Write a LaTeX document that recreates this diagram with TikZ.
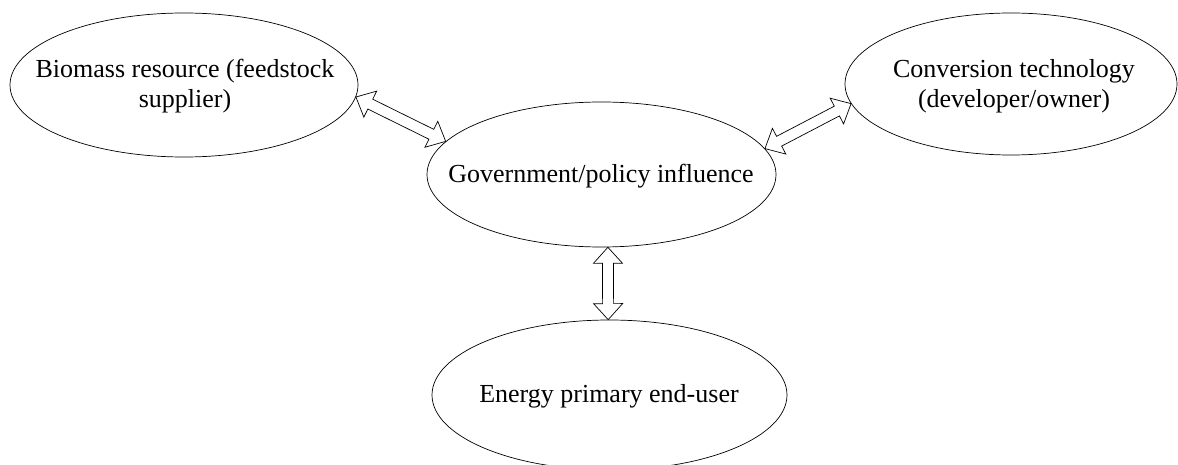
\documentclass[tikz,border=0pt]{standalone}
\usepackage{fontspec}
\setmainfont{Liberation Serif}
\usetikzlibrary{calc,shapes.geometric}

\tikzset{
  party/.style={draw, ellipse, line width=0.7pt, inner sep=0pt},
  partytext/.style={align=center, inner sep=0pt, font=\fontsize{26}{30}\selectfont},
  blockarrow/.style={draw, line width=0.7pt, fill=white, line join=miter},
}

% Hollow double-headed block arrow from node point #1 to node point #2
\newcommand\linkarrow[2]{%
  \path[blockarrow] let \p1=(#1), \p2=(#2),
      \n1={atan2(\y2-\y1,\x2-\x1)}, \n2={veclen(\x2-\x1,\y2-\y1)} in
    [shift={(\p1)}, rotate=\n1]
    (0pt,0pt) -- (16pt,14.5pt) -- (16pt,5.5pt) -- ({(\n2-16)*1pt},5.5pt)
    -- ({(\n2-16)*1pt},14.5pt) -- ({\n2*1pt},0pt) -- ({(\n2-16)*1pt},-14.5pt)
    -- ({(\n2-16)*1pt},-5.5pt) -- (16pt,-5.5pt) -- (16pt,-14.5pt) -- cycle;
}

\begin{document}
\begin{tikzpicture}[x=1pt,y=-1pt]
  \useasboundingbox (0,0) rectangle (1178,465);

  % the four parties
  \node[party, minimum width=348pt, minimum height=144pt] (bio) at (184,85) {};
  \node[party, minimum width=332pt, minimum height=142pt] (conv) at (1011,84) {};
  \node[party, minimum width=349pt, minimum height=145pt] (gov) at (601.5,174.5) {};
  \node[party, minimum width=355pt, minimum height=150pt] (user) at (609.5,395) {};

  % their labels
  \node[partytext] (biotext) at (185,86) {Biomass resource (feedstock\\supplier)};
  \node[partytext] (convtext) at (1014,86) {Conversion technology\\(developer/owner)};
  \node[partytext] (govtext) at (601,176) {Government/policy influence};
  \node[partytext] (usertext) at (609,396) {Energy primary end-user};

  % arrow end points on the ellipse borders
  \coordinate (b1) at (bio.-4.35);
  \coordinate (g1) at (gov.168.6);
  \coordinate (g2) at (gov.9.2);
  \coordinate (c1) at (conv.-173.2);
  \coordinate (g3) at (gov.-85.7);
  \coordinate (u1) at (user.91.9);

  \linkarrow{b1}{g1}
  \linkarrow{g2}{c1}
  \linkarrow{g3}{u1}
\end{tikzpicture}
\end{document}
